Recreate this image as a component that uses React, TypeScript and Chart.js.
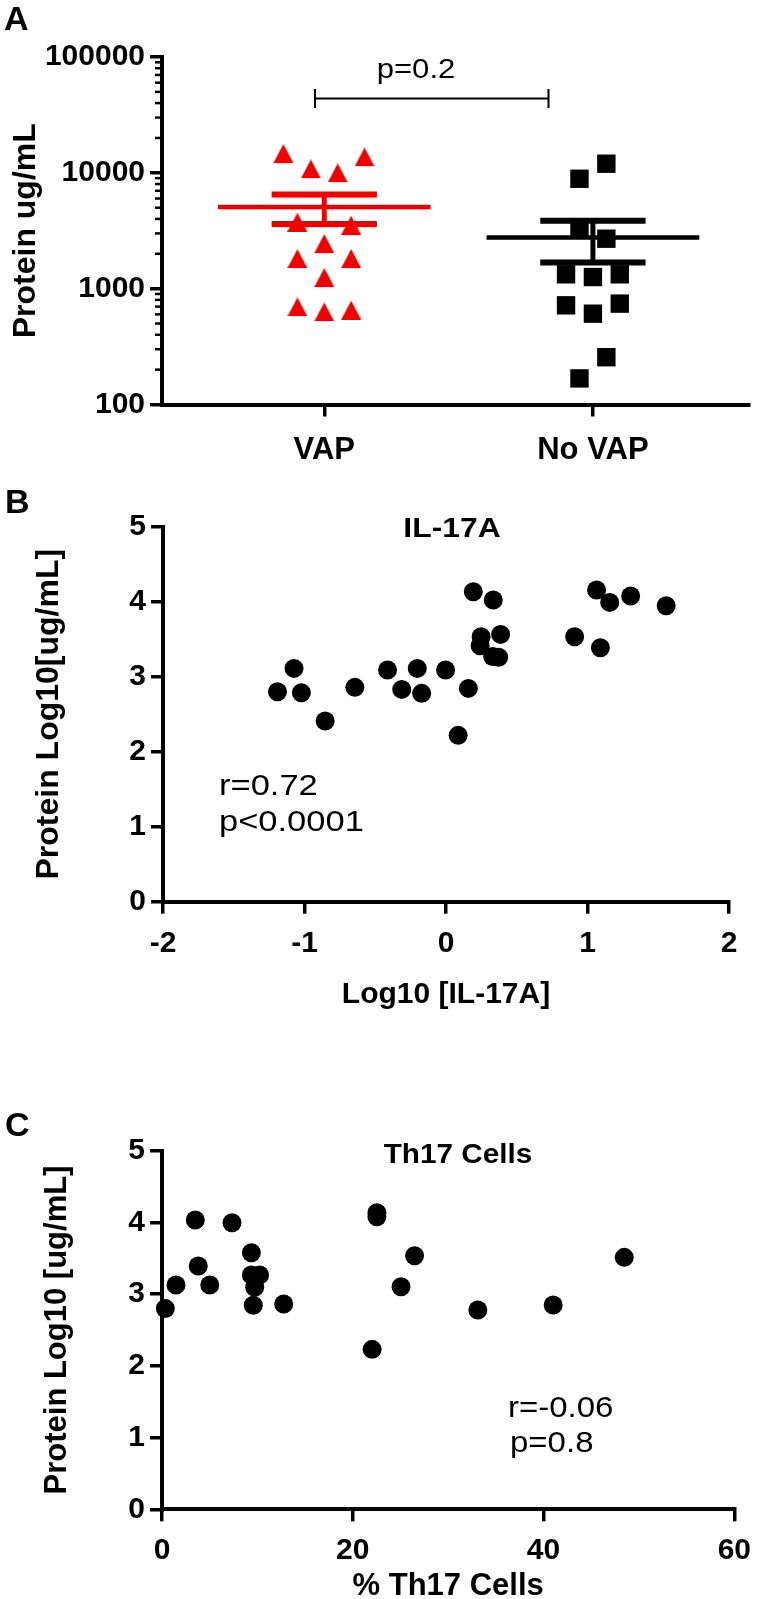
import React, { useEffect, useRef } from 'react';
import { Chart, registerables } from 'chart.js';

Chart.register(...registerables);

const FONT = '"Liberation Sans", Arial, Helvetica, sans-serif';
const RED = '#f20000';
const BLACK = '#000000';

// ---------------- Panel A data ----------------
const groupLabels = ['VAP', 'No VAP'];
const groupPositions = [0, 1];
const vapJitter = [-0.152, 0.15, -0.05, 0.05, -0.1, 0.1, 0, -0.1, 0.1, 0, -0.1, 0, 0.1];
const vapProtein = [14700, 13700, 10800, 10000, 3750, 3530, 2450, 1820, 1820, 1250, 697, 631, 653];
const noVapJitter = [-0.05, 0.05, -0.05, 0.05, -0.1, 0, 0.1, -0.1, 0, 0.1, 0.05, -0.05];
const noVapProtein = [8890, 11990, 3250, 2700, 1330, 1260, 1330, 718, 608, 743, 256, 168];
const proteinTicks = [100, 1000, 10000, 100000];
const proteinMinorTicks = [
  200, 300, 400, 500, 600, 700, 800, 900,
  2000, 3000, 4000, 5000, 6000, 7000, 8000, 9000,
  20000, 30000, 40000, 50000, 60000, 70000, 80000, 90000,
];
const pValueA = 'p=0.2';

// ---------------- Panel B data ----------------
const il17aLog = [
  -1.191, -1.074, -1.022, -0.854, -0.644, -0.413, -0.313, -0.203, -0.172, -0.003,
  0.086, 0.158, 0.193, 0.248, 0.241, 0.334, 0.33, 0.372, 0.386, 0.909,
  1.064, 1.091, 1.157, 1.305, 1.556,
];
const proteinLogB = [
  2.8, 3.111, 2.787, 2.409, 2.858, 3.089, 2.831, 3.111, 2.778, 3.089,
  2.218, 2.844, 4.133, 3.533, 3.413, 4.022, 3.27, 3.26, 3.564, 3.533,
  4.156, 3.387, 3.991, 4.076, 3.947,
];
const il17aTicks = [-2, -1, 0, 1, 2];
const logProteinTicks = [0, 1, 2, 3, 4, 5];
const statsB = ['r=0.72', 'p<0.0001'];

// ---------------- Panel C data ----------------
const th17Pct = [
  0.35, 1.47, 3.49, 3.8, 5.01, 7.34, 9.37, 9.37, 10.23, 9.72,
  9.57, 12.76, 22.03, 22.53, 22.53, 26.48, 25.06, 33.11, 41.01, 48.46,
];
const proteinLogC = [
  2.8, 3.127, 4.033, 3.392, 3.127, 3.996, 3.578, 3.267, 3.267, 3.095,
  2.844, 2.862, 2.23, 4.136, 4.08, 3.536, 3.104, 2.779, 2.849, 3.513,
];
const th17Ticks = [0, 20, 40, 60];
const statsC = ['r=-0.06', 'p=0.8'];

// ---------------- helpers ----------------
function mean(v: number[]) {
  return v.reduce((a, b) => a + b, 0) / v.length;
}
function sem(v: number[]) {
  const m = mean(v);
  const sd = Math.sqrt(v.reduce((a, b) => a + (b - m) * (b - m), 0) / (v.length - 1));
  return sd / Math.sqrt(v.length);
}

function makeTriangle(color: string, w: number, h: number) {
  const c = document.createElement('canvas');
  c.width = w;
  c.height = h;
  const g = c.getContext('2d')!;
  g.fillStyle = color;
  g.beginPath();
  g.moveTo(w / 2, 0);
  g.lineTo(w, h);
  g.lineTo(0, h);
  g.closePath();
  g.fill();
  return c;
}

function drawText(
  ctx: CanvasRenderingContext2D,
  t: string,
  x: number,
  y: number,
  font: string,
  align: CanvasTextAlign = 'left',
  sx = 1
) {
  ctx.save();
  ctx.translate(x, y);
  ctx.scale(sx, 1);
  ctx.font = font;
  ctx.textAlign = align;
  ctx.textBaseline = 'alphabetic';
  ctx.fillStyle = '#000';
  ctx.fillText(t, 0, 0);
  ctx.restore();
}

function meanSemSets(pos: number, values: number[], color: string) {
  const m = mean(values);
  const s = sem(values);
  const base = { showLine: true, pointRadius: 0, borderColor: color, clip: false as const, borderCapStyle: 'butt' as const };
  return [
    { ...base, borderWidth: 4.5, data: [{ x: pos - 0.396, y: m }, { x: pos + 0.396, y: m }] },
    { ...base, borderWidth: 6, data: [{ x: pos - 0.196, y: m + s }, { x: pos + 0.196, y: m + s }] },
    { ...base, borderWidth: 6, data: [{ x: pos - 0.196, y: m - s }, { x: pos + 0.196, y: m - s }] },
    { ...base, borderWidth: 5, data: [{ x: pos, y: m - s }, { x: pos, y: m + s }] },
  ];
}

const grid = { drawOnChartArea: false, drawTicks: true, tickLength: 12, tickWidth: 3.5, tickColor: '#000', lineWidth: 3.5 };
const border = { display: true, width: 4, color: '#000' };
const bold = (size: number) => ({ family: FONT, size, weight: 'bold' as const });

// ---------------- chart configs ----------------
function configA(): any {
  const tri = makeTriangle(RED, 20, 19);
  const datasets: any[] = [
    ...meanSemSets(0, vapProtein, RED),
    ...meanSemSets(1, noVapProtein, BLACK),
    {
      data: vapProtein.map((y, i) => ({ x: groupPositions[0] + vapJitter[i], y })),
      pointStyle: tri,
      pointRadius: 10,
      backgroundColor: RED,
      borderWidth: 0,
      clip: false,
    },
    {
      data: noVapProtein.map((y, i) => ({ x: groupPositions[1] + noVapJitter[i], y })),
      pointStyle: 'rect',
      pointRadius: 13,
      backgroundColor: BLACK,
      borderWidth: 0,
      clip: false,
    },
  ];
  const annot = {
    id: 'annotA',
    afterDraw(chart: any) {
      const ctx = chart.ctx as CanvasRenderingContext2D;
      const ys = chart.scales.y;
      const left = chart.chartArea.left;
      ctx.save();
      ctx.strokeStyle = '#000';
      ctx.lineWidth = 2.5;
      for (const v of proteinMinorTicks) {
        const py = ys.getPixelForValue(v);
        ctx.beginPath();
        ctx.moveTo(left - 7, py);
        ctx.lineTo(left, py);
        ctx.stroke();
      }
      // bracket
      ctx.lineWidth = 2;
      ctx.beginPath();
      ctx.moveTo(314, 98.5);
      ctx.lineTo(549, 98.5);
      ctx.moveTo(315, 89);
      ctx.lineTo(315, 108);
      ctx.moveTo(548.5, 89);
      ctx.lineTo(548.5, 108);
      ctx.stroke();
      ctx.restore();
      drawText(ctx, 'A', 4, 30, `bold 34px ${FONT}`);
      drawText(ctx, pValueA, 416, 78, `27px ${FONT}`, 'center', 1.15);
    },
  };
  return {
    type: 'scatter',
    data: { datasets },
    options: {
      responsive: false,
      maintainAspectRatio: false,
      animation: false,
      events: [],
      layout: { padding: { top: 57, right: 10, left: 0, bottom: 0 } },
      plugins: { legend: { display: false }, tooltip: { enabled: false } },
      scales: {
        x: {
          type: 'linear',
          min: -0.604,
          max: 1.581,
          afterBuildTicks: (s: any) => {
            s.ticks = groupPositions.map((v) => ({ value: v }));
          },
          afterFit: (s: any) => {
            s.height = 75.5;
          },
          ticks: {
            autoSkip: false,
            maxRotation: 0,
            padding: 15,
            color: '#000',
            font: bold(31),
            callback: (v: any) => groupLabels[groupPositions.indexOf(Number(v))] ?? '',
          },
          grid,
          border,
        },
        y: {
          type: 'logarithmic',
          min: 100,
          max: 100000,
          afterBuildTicks: (s: any) => {
            s.ticks = proteinTicks.map((v) => ({ value: v, major: true }));
          },
          afterFit: (s: any) => {
            s.width = 162;
          },
          ticks: {
            autoSkip: false,
            padding: 5,
            color: '#000',
            font: bold(30),
            callback: (v: any) => String(v),
          },
          title: {
            display: true,
            text: 'Protein ug/mL',
            color: '#000',
            font: bold(32),
            padding: { top: 6.8, bottom: 0 },
          },
          grid,
          border,
        },
      },
    },
    plugins: [annot],
  };
}

function scatterConfig(opts: {
  xs: number[];
  ys: number[];
  xMin: number;
  xMax: number;
  xTicks: number[];
  padTop: number;
  padRight: number;
  yWidth: number;
  xHeight: number;
  xTickPad: number;
  xTitle: string;
  xTitleSize: number;
  xTitlePad: number;
  yTitle: string;
  yTitleSize: number;
  yTitlePad: number;
  annotate: (ctx: CanvasRenderingContext2D, chart: any) => void;
}): any {
  return {
    type: 'scatter',
    data: {
      datasets: [
        {
          data: opts.xs.map((x, i) => ({ x, y: opts.ys[i] })),
          pointStyle: 'circle',
          pointRadius: 9.5,
          backgroundColor: BLACK,
          borderWidth: 0,
          clip: false,
        },
      ],
    },
    options: {
      responsive: false,
      maintainAspectRatio: false,
      animation: false,
      events: [],
      layout: { padding: { top: opts.padTop, right: opts.padRight, left: 0, bottom: 0 } },
      plugins: { legend: { display: false }, tooltip: { enabled: false } },
      scales: {
        x: {
          type: 'linear',
          min: opts.xMin,
          max: opts.xMax,
          afterBuildTicks: (s: any) => {
            s.ticks = opts.xTicks.map((v) => ({ value: v }));
          },
          afterFit: (s: any) => {
            s.height = opts.xHeight;
          },
          ticks: { autoSkip: false, maxRotation: 0, padding: opts.xTickPad, color: '#000', font: bold(30) },
          title: {
            display: true,
            text: opts.xTitle,
            color: '#000',
            font: bold(opts.xTitleSize),
            padding: { top: 0, bottom: opts.xTitlePad },
          },
          grid,
          border,
        },
        y: {
          type: 'linear',
          min: 0,
          max: 5,
          afterBuildTicks: (s: any) => {
            s.ticks = logProteinTicks.map((v) => ({ value: v }));
          },
          afterFit: (s: any) => {
            s.width = opts.yWidth;
          },
          ticks: { autoSkip: false, padding: 5, color: '#000', font: bold(30) },
          title: {
            display: true,
            text: opts.yTitle,
            color: '#000',
            font: bold(opts.yTitleSize),
            padding: { top: opts.yTitlePad, bottom: 0 },
          },
          grid,
          border,
        },
      },
    },
    plugins: [
      {
        id: 'annot',
        afterDraw(chart: any) {
          opts.annotate(chart.ctx as CanvasRenderingContext2D, chart);
        },
      },
    ],
  };
}

function configB(): any {
  const off = 480;
  return scatterConfig({
    xs: il17aLog,
    ys: proteinLogB,
    xMin: -2,
    xMax: 2,
    xTicks: il17aTicks,
    padTop: 526.7 - off,
    padRight: 762 - 729,
    yWidth: 163,
    xHeight: 580 - (901.7 - off),
    xTickPad: 12,
    xTitle: 'Log10 [IL-17A]',
    xTitleSize: 30,
    xTitlePad: 47,
    yTitle: 'Protein Log10[ug/mL]',
    yTitleSize: 32,
    yTitlePad: 29.8,
    annotate: (ctx) => {
      drawText(ctx, 'B', 5, 513 - off, `bold 34px ${FONT}`);
      drawText(ctx, 'IL-17A', 452, 537 - off, `bold 27px ${FONT}`, 'center', 1.18);
      drawText(ctx, statsB[0], 219, 795 - off, `30px ${FONT}`, 'left', 1.15);
      drawText(ctx, statsB[1], 219, 831 - off, `30px ${FONT}`, 'left', 1.15);
    },
  });
}

function configC(): any {
  const off = 1060;
  return scatterConfig({
    xs: th17Pct,
    ys: proteinLogC,
    xMin: 0,
    xMax: 60,
    xTicks: th17Ticks,
    padTop: 1150.7 - off,
    padRight: 762 - 739,
    yWidth: 162,
    xHeight: 560 - (1509.3 - off),
    xTickPad: 11,
    xTitle: '% Th17 Cells',
    xTitleSize: 31,
    xTitlePad: 15,
    yTitle: 'Protein Log10 [ug/mL]',
    yTitleSize: 31,
    yTitlePad: 38.4,
    annotate: (ctx) => {
      drawText(ctx, 'C', 5, 1136 - off, `bold 34px ${FONT}`);
      drawText(ctx, 'Th17 Cells', 458, 1163 - off, `bold 27px ${FONT}`, 'center', 1.1);
      drawText(ctx, statsC[0], 508, 1417 - off, `30px ${FONT}`, 'left', 1.1);
      drawText(ctx, statsC[1], 510, 1452 - off, `30px ${FONT}`, 'left', 1.1);
    },
  });
}

function Panel({ top, height, build }: { top: number; height: number; build: () => any }) {
  const ref = useRef<HTMLCanvasElement>(null);
  useEffect(() => {
    const chart = new Chart(ref.current!, build());
    return () => chart.destroy();
  }, []);
  return (
    <canvas
      ref={ref}
      width={762}
      height={height}
      style={{ position: 'absolute', left: 0, top, width: 762, height, display: 'block' }}
    />
  );
}

export default function App() {
  return (
    <div
      style={{
        position: 'absolute',
        left: 0,
        top: 0,
        width: 762,
        height: 1599,
        overflow: 'hidden',
        background: '#fff',
      }}
    >
      <Panel top={0} height={480} build={configA} />
      <Panel top={480} height={580} build={configB} />
      <Panel top={1060} height={560} build={configC} />
    </div>
  );
}
